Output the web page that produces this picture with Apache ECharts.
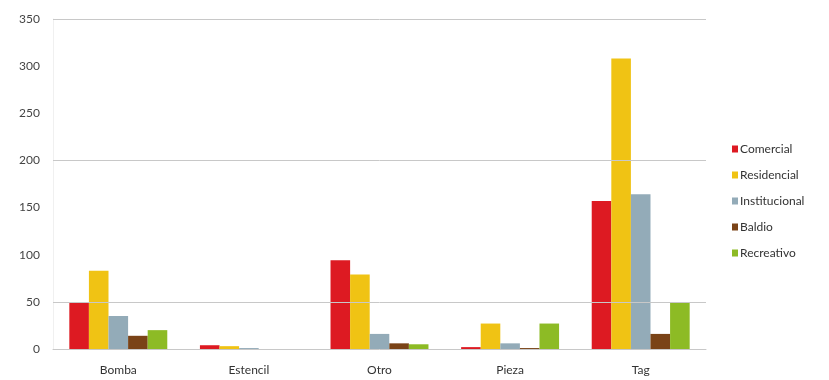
<!DOCTYPE html>
<html>
<head>
<meta charset="utf-8">
<script src="https://cdn.jsdelivr.net/npm/echarts@6/dist/echarts.min.js"></script>
<style>html,body{margin:0;padding:0;background:#fff}#c{width:829px;height:380px}</style>
</head>
<body>
<div id="c"></div>
<script>
const categories = ['Bomba', 'Estencil', 'Otro', 'Pieza', 'Tag'];
const legendNames = ['Comercial', 'Residencial', 'Institucional', 'Baldio', 'Recreativo'];
const comercial = [49, 4, 94, 2, 157];
const residencial = [83, 3, 79, 27, 308];
const institucional = [35, 1, 16, 6, 164];
const baldio = [14, 0, 6, 1, 16];
const recreativo = [20, 0, 5, 27, 49];
const yTicks = [0, 50, 100, 150, 200, 250, 300, 350];
const visibleGridLines = [50, 200, 350];

const colors = ['#dd1a22', '#f0c314', '#93abb8', '#7a4317', '#8dbb25'];
const values = [comercial, residencial, institucional, baldio, recreativo];

const series = values.map((v, i) => ({
  name: legendNames[i],
  type: 'bar',
  data: v,
  barGap: '0%',
  barCategoryGap: '25%',
  itemStyle: { color: colors[i] },
  markLine: i === 0 ? {
    silent: true, symbol: 'none', label: { show: false },
    lineStyle: { color: '#c8c8c8', type: 'solid', width: 1 },
    data: visibleGridLines.map(y => ({ yAxis: y }))
  } : undefined
}));

const chart = echarts.init(document.getElementById('c'));
chart.setOption({
  animation: false,
  textStyle: { fontFamily: 'Lato, "Open Sans", sans-serif' },
  grid: { left: 53, right: 123, top: 19, bottom: 31 },
  legend: {
    orient: 'vertical', left: 727, top: 138,
    itemWidth: 6, itemHeight: 7, itemGap: 14,
    icon: 'rect',
    textStyle: { fontSize: 12, color: '#333', padding: [0, 0, 0, -3] },
    data: legendNames
  },
  xAxis: {
    type: 'category', data: categories,
    axisLine: { lineStyle: { color: '#c8c8c8' } },
    axisTick: { show: false },
    axisLabel: { color: '#333', fontSize: 12, margin: 15 }
  },
  yAxis: {
    type: 'value', min: yTicks[0], max: yTicks[yTicks.length - 1], interval: 50,
    axisLine: { show: true, lineStyle: { color: '#f0f0f0' } },
    splitLine: { show: false },
    axisLabel: { color: '#444', fontSize: 12, margin: 13 }
  },
  series: series
});
</script>
</body>
</html>
